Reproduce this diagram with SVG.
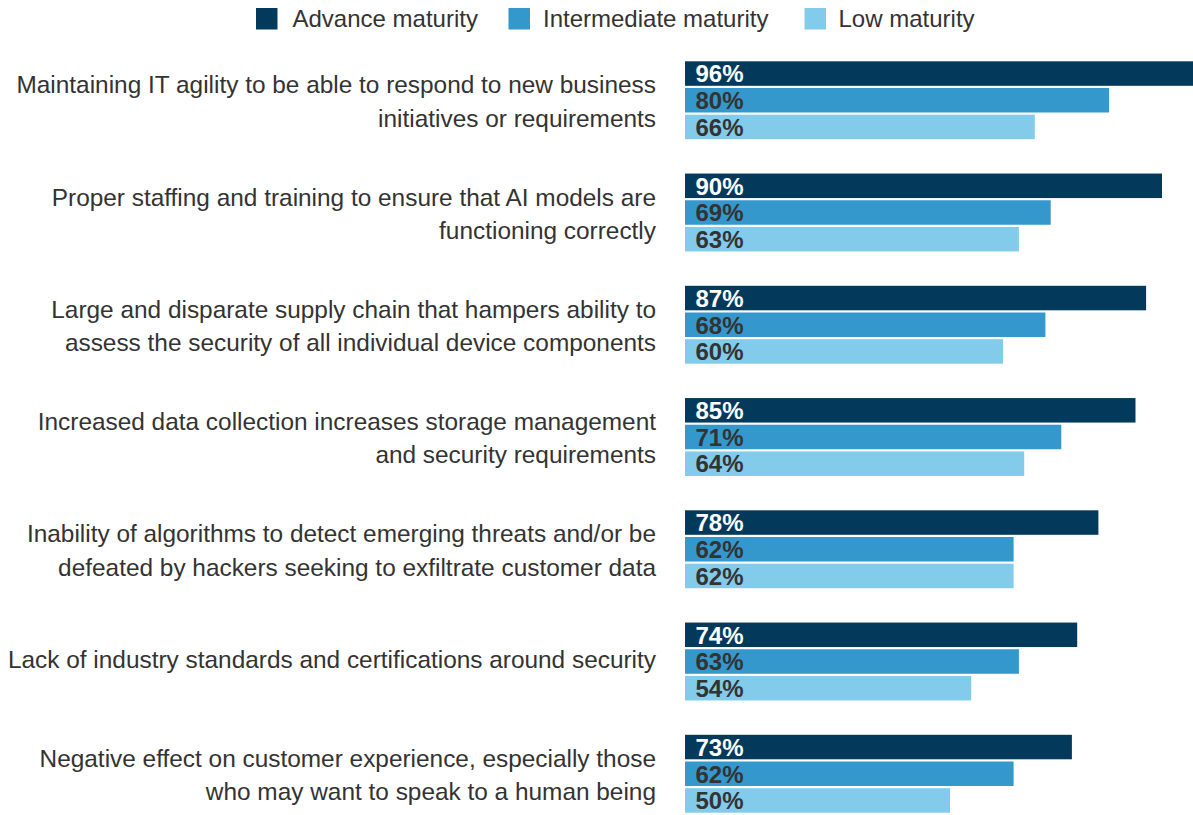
<svg xmlns="http://www.w3.org/2000/svg" width="1193" height="815" viewBox="0 0 1193 815">
<style>
.lbl{font-family:"Liberation Sans",Arial,sans-serif;font-size:24.4px;fill:#333333;text-anchor:end}
.leg{font-family:"Liberation Sans",Arial,sans-serif;font-size:24px;fill:#333333}
.pct{font-family:"Liberation Sans",Arial,sans-serif;font-size:24px;font-weight:bold;fill:#333333}
.pw{fill:#ffffff}
.adv{fill:#033a5c}
.int{fill:#3498cc}
.low{fill:#82cbeb}
</style>
<rect width="1193" height="815" fill="#ffffff"/>
<g id="legend">
<rect class="adv" x="256" y="8" width="21.5" height="21.5"/>
<text class="leg" x="292.5" y="27">Advance maturity</text>
<rect class="int" x="508.5" y="8" width="21.5" height="21.5"/>
<text class="leg" x="543" y="27">Intermediate maturity</text>
<rect class="low" x="804.5" y="8" width="21.5" height="21.5"/>
<text class="leg" x="838.5" y="27">Low maturity</text>
</g>
<g id="connectors"></g>
<g id="group1">
<text class="lbl" x="656" y="93.3">Maintaining IT agility to be able to respond to new business</text>
<text class="lbl" x="656" y="126.7">initiatives or requirements</text>
<rect class="adv" x="685" y="61.3" width="508.8" height="24.5"/>
<rect class="int" x="685" y="88" width="424" height="24.5"/>
<rect class="low" x="685" y="114.7" width="349.8" height="24.5"/>
<text class="pct pw" x="695.5" y="82.3">96%</text>
<text class="pct" x="695.5" y="109">80%</text>
<text class="pct" x="695.5" y="135.7">66%</text>
</g>
<g id="group2">
<text class="lbl" x="656" y="205.55">Proper staffing and training to ensure that AI models are</text>
<text class="lbl" x="656" y="238.95">functioning correctly</text>
<rect class="adv" x="685" y="173.55" width="477" height="24.5"/>
<rect class="int" x="685" y="200.25" width="365.7" height="24.5"/>
<rect class="low" x="685" y="226.95" width="333.9" height="24.5"/>
<text class="pct pw" x="695.5" y="194.55">90%</text>
<text class="pct" x="695.5" y="221.25">69%</text>
<text class="pct" x="695.5" y="247.95">63%</text>
</g>
<g id="group3">
<text class="lbl" x="656" y="317.8">Large and disparate supply chain that hampers ability to</text>
<text class="lbl" x="656" y="351.2">assess the security of all individual device components</text>
<rect class="adv" x="685" y="285.8" width="461.1" height="24.5"/>
<rect class="int" x="685" y="312.5" width="360.4" height="24.5"/>
<rect class="low" x="685" y="339.2" width="318" height="24.5"/>
<text class="pct pw" x="695.5" y="306.8">87%</text>
<text class="pct" x="695.5" y="333.5">68%</text>
<text class="pct" x="695.5" y="360.2">60%</text>
</g>
<g id="group4">
<text class="lbl" x="656" y="430.05">Increased data collection increases storage management</text>
<text class="lbl" x="656" y="463.45">and security requirements</text>
<rect class="adv" x="685" y="398.05" width="450.5" height="24.5"/>
<rect class="int" x="685" y="424.75" width="376.3" height="24.5"/>
<rect class="low" x="685" y="451.45" width="339.2" height="24.5"/>
<text class="pct pw" x="695.5" y="419.05">85%</text>
<text class="pct" x="695.5" y="445.75">71%</text>
<text class="pct" x="695.5" y="472.45">64%</text>
</g>
<g id="group5">
<text class="lbl" x="656" y="542.3">Inability of algorithms to detect emerging threats and/or be</text>
<text class="lbl" x="656" y="575.7">defeated by hackers seeking to exfiltrate customer data</text>
<rect class="adv" x="685" y="510.3" width="413.4" height="24.5"/>
<rect class="int" x="685" y="537" width="328.6" height="24.5"/>
<rect class="low" x="685" y="563.7" width="328.6" height="24.5"/>
<text class="pct pw" x="695.5" y="531.3">78%</text>
<text class="pct" x="695.5" y="558">62%</text>
<text class="pct" x="695.5" y="584.7">62%</text>
</g>
<g id="group6">
<text class="lbl" x="656" y="668">Lack of industry standards and certifications around security</text>
<rect class="adv" x="685" y="622.55" width="392.2" height="24.5"/>
<rect class="int" x="685" y="649.25" width="333.9" height="24.5"/>
<rect class="low" x="685" y="675.95" width="286.2" height="24.5"/>
<text class="pct pw" x="695.5" y="643.55">74%</text>
<text class="pct" x="695.5" y="670.25">63%</text>
<text class="pct" x="695.5" y="696.95">54%</text>
</g>
<g id="group7">
<text class="lbl" x="656" y="766.8">Negative effect on customer experience, especially those</text>
<text class="lbl" x="656" y="800.2">who may want to speak to a human being</text>
<rect class="adv" x="685" y="734.8" width="386.9" height="24.5"/>
<rect class="int" x="685" y="761.5" width="328.6" height="24.5"/>
<rect class="low" x="685" y="788.2" width="265" height="24.5"/>
<text class="pct pw" x="695.5" y="755.8">73%</text>
<text class="pct" x="695.5" y="782.5">62%</text>
<text class="pct" x="695.5" y="809.2">50%</text>
</g>
</svg>
